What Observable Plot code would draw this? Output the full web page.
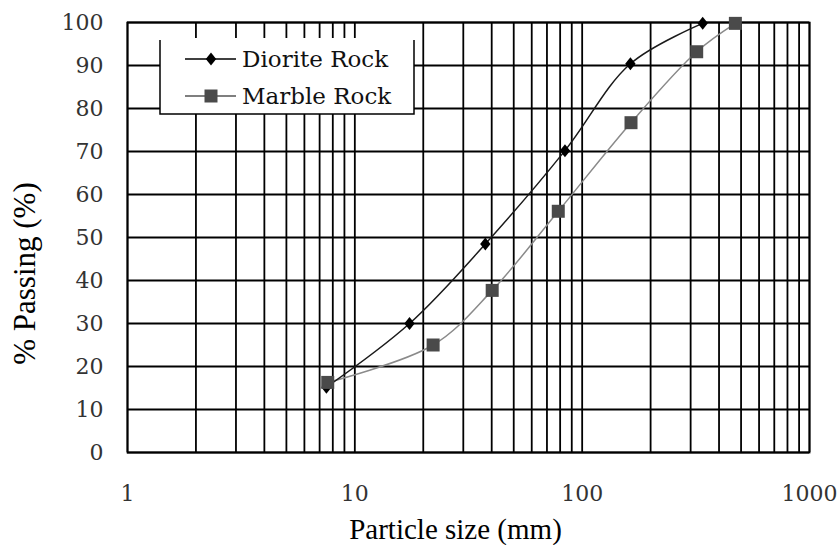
<!DOCTYPE html>
<html><head><meta charset="utf-8">
<script src="https://cdn.jsdelivr.net/npm/d3@7"></script>
<script src="https://cdn.jsdelivr.net/npm/@observablehq/plot@0.6"></script>
<style>body{margin:0;background:#fff;}</style>
</head><body><div id="chart"></div>
<script>
const seriesNames = ["Diorite Rock", "Marble Rock"];
const seriesColors = ["#1a1a1a", "#8a8a8a"];
const markerColors = ["#000000", "#4a4a4a"];
const dioriteSize = [7.5, 17.4, 37.5, 84, 163, 339];
const dioritePassing = [15.2, 30, 48.5, 70.2, 90.4, 99.8];
const marbleSize = [7.6, 22.1, 40.2, 78.5, 164, 319, 472];
const marblePassing = [16.3, 25, 37.7, 56.1, 76.7, 93.2, 99.8];
const xTicks = [1, 10, 100, 1000];
const xGrid = [1, 2, 3, 4, 5, 6, 7, 8, 9, 10, 20, 30, 40, 50, 60, 70, 80, 90, 100, 200, 300, 400, 500, 600, 700, 800, 900, 1000];
const yTicks = [0, 10, 20, 30, 40, 50, 60, 70, 80, 90, 100];
const xTitle = "Particle size (mm)";
const yTitle = "% Passing (%)";

const diorite = dioriteSize.map((x, i) => ({x, y: dioritePassing[i]}));
const marble = marbleSize.map((x, i) => ({x, y: marblePassing[i]}));

const diamondSym = {draw(ctx, size) { const r = Math.sqrt(size / Math.PI); const w = r * 0.8;
  ctx.moveTo(0, -r); ctx.lineTo(w, 0); ctx.lineTo(0, r); ctx.lineTo(-w, 0); ctx.closePath(); }};
const squareSym = {draw(ctx, size) { const r = Math.sqrt(size / Math.PI);
  ctx.moveTo(-r, -r); ctx.lineTo(r, -r); ctx.lineTo(r, r); ctx.lineTo(-r, r); ctx.closePath(); }};
const symbols = [diamondSym, squareSym];
const symR = [6.5, 6.5];

const serif = "'Liberation Serif', 'Times New Roman', serif";
const tickFont = "'DejaVu Serif', serif";

const chart = Plot.plot({
  width: 838, height: 545,
  marginLeft: 127, marginRight: 29, marginTop: 22, marginBottom: 93,
  style: {fontFamily: tickFont, fontSize: "22px", color: "#333", background: "#fff"},
  x: {type: "log", domain: [1, 1000]},
  y: {domain: [0, 100]},
  marks: [
    Plot.ruleX(xGrid, {stroke: "#000", strokeWidth: 1.8, strokeOpacity: 1}),
    Plot.ruleY(yTicks, {stroke: "#000", strokeWidth: 1.8, strokeOpacity: 1}),
    Plot.frame({stroke: "#000", strokeWidth: 1.8}),
    Plot.line(marble, {x: "x", y: "y", curve: "catmull-rom", stroke: seriesColors[1], strokeWidth: 1.5}),
    Plot.line(diorite, {x: "x", y: "y", curve: "catmull-rom", stroke: seriesColors[0], strokeWidth: 1.5}),
    Plot.dot(diorite, {x: "x", y: "y", symbol: symbols[0], r: symR[0], fill: markerColors[0], stroke: "none"}),
    Plot.dot(marble, {x: "x", y: "y", symbol: symbols[1], r: symR[1], fill: markerColors[1], stroke: "none"}),
    Plot.axisX({ticks: xTicks, tickSize: 0, tickPadding: 33, tickFormat: d => String(d), label: null}),
    Plot.axisY({ticks: yTicks, tickSize: 0, tickPadding: 24, label: null}),
    Plot.text([xTitle], {frameAnchor: "bottom", dx: -13, dy: 77, text: d => d, fontFamily: serif, fontSize: 29, fill: "#000", textAnchor: "middle", lineAnchor: "middle"}),
    Plot.text([yTitle], {frameAnchor: "left", dx: -102, dy: 36, rotate: -90, text: d => d, fontFamily: serif, fontSize: 31, fill: "#000", textAnchor: "middle", lineAnchor: "middle"})
  ]
});
document.getElementById("chart").appendChild(chart);

// legend
const svg = d3.select(chart);
const lg = svg.append("g").attr("text-anchor", "start");
lg.append("rect").attr("x", 160).attr("y", 38).attr("width", 254).attr("height", 76).attr("fill", "#fff");
lg.append("path").attr("d", "M160,40V114H414V40").attr("fill", "none").attr("stroke", "#000").attr("stroke-width", 1.5);
const rowsY = [59, 96];
seriesNames.forEach((name, i) => {
  const y = rowsY[i];
  lg.append("line").attr("x1", 185).attr("x2", 236).attr("y1", y).attr("y2", y).attr("stroke", i === 0 ? "#000" : "#555").attr("stroke-width", 1.5);
  lg.append("path").attr("transform", `translate(211,${y})`).attr("d", d3.symbol(symbols[i], Math.PI * symR[i] * symR[i])()).attr("fill", markerColors[i]);
  lg.append("text").attr("x", 242).attr("y", y).attr("dy", "0.35em").attr("font-family", tickFont).attr("font-size", 23).attr("fill", "#111").text(name);
});
</script>
</body></html>
